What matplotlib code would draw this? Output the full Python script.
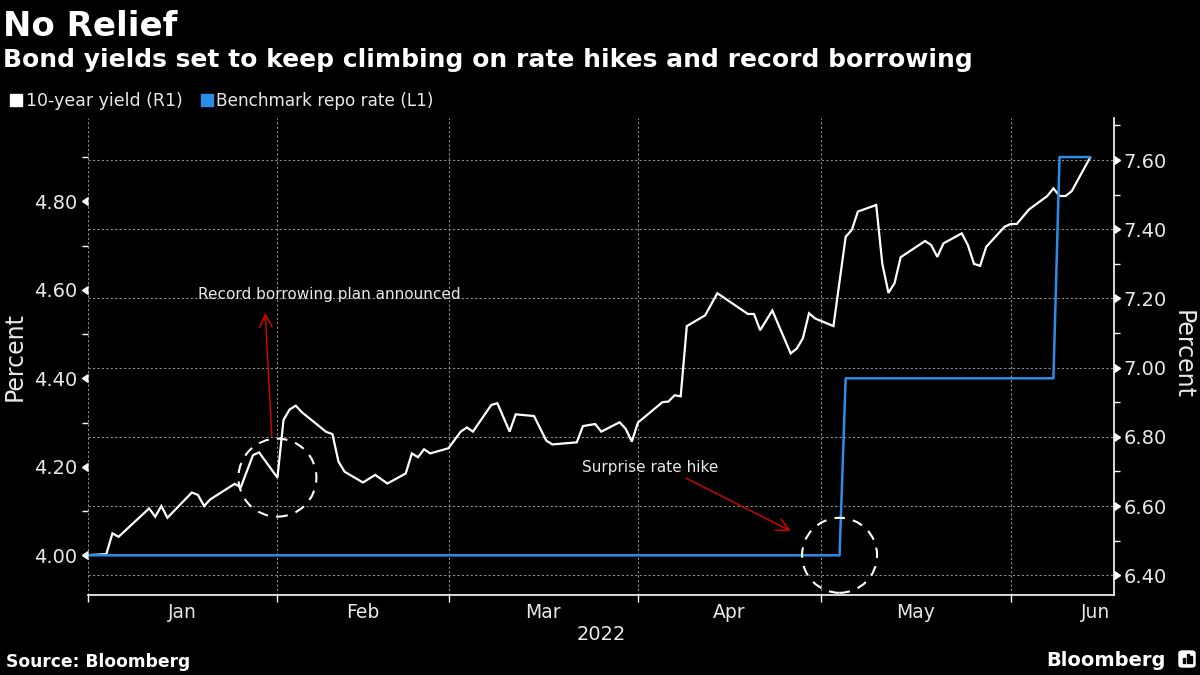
import matplotlib
matplotlib.use("Agg")
import matplotlib.pyplot as plt
import matplotlib.transforms as mtrans
import matplotlib.dates as mdates
from matplotlib.patches import Circle, Rectangle, FancyBboxPatch
import pandas as pd

# ---------------- data ----------------
title = "No Relief"
subtitle = "Bond yields set to keep climbing on rate hikes and record borrowing"
source = "Source: Bloomberg"
legend_labels = ["10-year yield (R1)", "Benchmark repo rate (L1)"]

yield_dates = [
    "2022-01-01", "2022-01-04", "2022-01-05", "2022-01-06", "2022-01-11", "2022-01-12",
    "2022-01-13", "2022-01-14", "2022-01-18", "2022-01-19", "2022-01-20", "2022-01-21",
    "2022-01-25", "2022-01-26", "2022-01-28", "2022-01-29", "2022-02-01", "2022-02-02",
    "2022-02-03", "2022-02-04", "2022-02-05", "2022-02-09", "2022-02-10", "2022-02-11",
    "2022-02-12", "2022-02-15", "2022-02-17", "2022-02-19", "2022-02-22", "2022-02-23",
    "2022-02-24", "2022-02-25", "2022-02-26", "2022-03-01", "2022-03-03", "2022-03-04",
    "2022-03-05", "2022-03-08", "2022-03-09", "2022-03-11", "2022-03-12", "2022-03-15",
    "2022-03-17", "2022-03-18", "2022-03-22", "2022-03-23", "2022-03-25", "2022-03-26",
    "2022-03-29", "2022-03-30", "2022-03-31", "2022-04-01", "2022-04-05", "2022-04-06",
    "2022-04-07", "2022-04-08", "2022-04-09", "2022-04-12", "2022-04-14", "2022-04-19",
    "2022-04-20", "2022-04-21", "2022-04-23", "2022-04-26", "2022-04-27", "2022-04-28",
    "2022-04-29", "2022-04-30", "2022-05-03", "2022-05-05", "2022-05-06", "2022-05-07",
    "2022-05-10", "2022-05-11", "2022-05-12", "2022-05-13", "2022-05-14", "2022-05-18",
    "2022-05-19", "2022-05-20", "2022-05-21", "2022-05-24", "2022-05-25", "2022-05-26",
    "2022-05-27", "2022-05-28", "2022-05-31", "2022-06-01", "2022-06-02", "2022-06-04",
    "2022-06-07", "2022-06-08", "2022-06-09", "2022-06-10", "2022-06-11", "2022-06-14",
]
yield_values = [
    6.458, 6.461, 6.521, 6.511, 6.593, 6.569,
    6.600, 6.566, 6.639, 6.632, 6.600, 6.619,
    6.664, 6.654, 6.747, 6.755, 6.682, 6.849,
    6.879, 6.890, 6.871, 6.814, 6.808, 6.728,
    6.699, 6.668, 6.690, 6.665, 6.694, 6.752,
    6.741, 6.764, 6.752, 6.767, 6.815, 6.827,
    6.815, 6.892, 6.897, 6.815, 6.865, 6.860,
    6.789, 6.778, 6.784, 6.831, 6.837, 6.815,
    6.842, 6.823, 6.786, 6.841, 6.900, 6.902,
    6.920, 6.917, 7.120, 7.151, 7.215, 7.155,
    7.155, 7.108, 7.165, 7.041, 7.055, 7.085,
    7.157, 7.142, 7.120, 7.378, 7.398, 7.451,
    7.470, 7.300, 7.216, 7.244, 7.319, 7.366,
    7.354, 7.320, 7.359, 7.388, 7.354, 7.300,
    7.294, 7.349, 7.407, 7.415, 7.415, 7.457,
    7.496, 7.518, 7.496, 7.496, 7.510, 7.607,
]

repo_dates = ["2022-01-01", "2022-05-04", "2022-05-05", "2022-06-08", "2022-06-09", "2022-06-14"]
repo_values = [4.00, 4.00, 4.40, 4.40, 4.90, 4.90]

left_ticks = [4.00, 4.20, 4.40, 4.60, 4.80]
left_minor = [4.10, 4.30, 4.50, 4.70, 4.90]
right_ticks = [6.40, 6.60, 6.80, 7.00, 7.20, 7.40, 7.60]
right_minor = [6.50, 6.70, 6.90, 7.10, 7.30, 7.50, 7.70]

month_starts = ["2022-01-01", "2022-02-01", "2022-03-01", "2022-04-01", "2022-05-01", "2022-06-01"]
month_labels = ["Jan", "Feb", "Mar", "Apr", "May", "Jun"]
month_label_pos = ["2022-01-16 10:00", "2022-02-15 00:00", "2022-03-16 12:00",
                   "2022-04-16 00:00", "2022-05-16 12:00", "2022-06-14 20:00"]
year_label = "2022"

note1 = "Record borrowing plan announced"
note2 = "Surprise rate hike"

# ---------------- style ----------------
BG = "#000000"
WHITE = "#ffffff"
TXT = "#e8e8e8"
GRID = "#8a8a8a"
BLUE = "#2b8de8"
RED = "#e00000"

fig = plt.figure(figsize=(12, 6.75), dpi=100, facecolor=BG)
ax = fig.add_axes([88 / 1200, 1 - 595 / 675, (1113.6 - 88) / 1200, (595 - 118) / 675])
ax.set_facecolor(BG)
ax2 = ax.twinx()

yd = pd.to_datetime(yield_dates)
rd = pd.to_datetime(repo_dates)

ax.plot(yd, yield_values, color=WHITE, lw=1.6, solid_joinstyle="miter", zorder=3)
ax2.plot(rd, repo_values, color=BLUE, lw=1.8, zorder=3)

x0 = pd.Timestamp("2022-01-01")
ax.set_xlim(x0, x0 + pd.Timedelta(days=167.85))
ax.set_ylim(6.3428, 7.7214)
ax2.set_ylim(3.9103, 4.9883)

# axis sides
ax.yaxis.tick_right()
ax.yaxis.set_label_position("right")
ax2.yaxis.tick_left()
ax2.yaxis.set_label_position("left")

# spines
for s in ax.spines.values():
    s.set_visible(False)
for s in ax2.spines.values():
    s.set_visible(False)
ax.spines["right"].set_visible(True)
ax.spines["bottom"].set_visible(True)
ax.spines["right"].set_color(WHITE)
ax.spines["bottom"].set_color(WHITE)
ax.spines["right"].set_linewidth(1.2)
ax.spines["bottom"].set_linewidth(1.2)

# right axis ticks (yield)
ax.set_yticks(right_ticks)
ax.set_yticklabels([f"{v:.2f}" for v in right_ticks])
ax.set_yticks(right_minor, minor=True)
ax.tick_params(axis="y", which="major", length=0, pad=7, labelsize=14, labelcolor=TXT)
ax.tick_params(axis="y", which="minor", length=4, width=1, color=WHITE, direction="out")

# left axis ticks (repo)
ax2.set_yticks(left_ticks)
ax2.set_yticklabels([f"{v:.2f}" for v in left_ticks])
ax2.set_yticks(left_minor, minor=True)
ax2.tick_params(axis="y", which="major", length=0, pad=8, labelsize=14, labelcolor=TXT)
ax2.tick_params(axis="y", which="minor", length=4, width=1, color=WHITE, direction="out")

# triangular major tick marks
tr_l = mtrans.blended_transform_factory(ax2.transAxes, ax2.transData)
ax2.plot([0] * len(left_ticks), left_ticks, linestyle="none", marker=8, markersize=6,
         color=WHITE, transform=tr_l, clip_on=False, zorder=5)
tr_r = mtrans.blended_transform_factory(ax.transAxes, ax.transData)
ax.plot([1] * len(right_ticks), right_ticks, linestyle="none", marker=9, markersize=6,
        color=WHITE, transform=tr_r, clip_on=False, zorder=5)

# x axis
ax.set_xticks(pd.to_datetime(month_starts))
ax.set_xticklabels([""] * len(month_starts))
ax.set_xticks(pd.to_datetime(month_label_pos), minor=True)
ax.set_xticklabels(month_labels, minor=True)
ax.tick_params(axis="x", which="major", length=5, width=1, color=WHITE, direction="out")
ax.tick_params(axis="x", which="minor", length=0, pad=6, labelsize=13.5, labelcolor=TXT)

# grid
ax.grid(True, which="major", color=GRID, linestyle=(0, (2, 2)), linewidth=0.8)
ax.set_axisbelow(True)

# axis labels
ax2.set_ylabel("Percent", fontsize=17, color=TXT, va="center")
ax2.yaxis.set_label_coords(-0.0712, 0.5)
ax.set_ylabel("Percent", fontsize=17, color=TXT, rotation=270, va="center")
ax.yaxis.set_label_coords(1.0675, 0.505)

fig.text(601 / 1200, 1 - 634 / 675, year_label, ha="center", va="center", fontsize=14, color=TXT)

# annotations
ax.annotate("", xy=(pd.Timestamp("2022-01-30"), 7.158), xytext=(pd.Timestamp("2022-01-31 02:00"), 6.802),
            arrowprops=dict(arrowstyle="->,head_length=0.9,head_width=0.45", color=RED, lw=1.0,
                            shrinkA=0, shrinkB=0), zorder=6)
ax.text(pd.Timestamp("2022-02-09 10:00"), 7.21, note1, ha="center", va="center", fontsize=11, color=TXT)

ax.annotate("", xy=(pd.Timestamp("2022-04-26"), 6.528), xytext=(pd.Timestamp("2022-04-08 22:00"), 6.680),
            arrowprops=dict(arrowstyle="->,head_length=0.9,head_width=0.45", color=RED, lw=1.0,
                            shrinkA=0, shrinkB=0), zorder=6)
ax.text(pd.Timestamp("2022-04-03 02:00"), 6.71, note2, ha="center", va="center", fontsize=11, color=TXT)

# dashed circles centred on the highlighted data points
c1 = Circle((0, 0), radius=0.39, fill=False, edgecolor=WHITE, lw=1.5, linestyle=(0, (5, 4)),
            transform=fig.dpi_scale_trans + mtrans.ScaledTranslation(
                mdates.date2num(yd[yield_dates.index("2022-02-01")]),
                yield_values[yield_dates.index("2022-02-01")], ax.transData), clip_on=False, zorder=6)
ax.add_artist(c1)
c2 = Circle((0, 0), radius=0.375, fill=False, edgecolor=WHITE, lw=1.5, linestyle=(0, (5, 4)),
            transform=fig.dpi_scale_trans + mtrans.ScaledTranslation(
                mdates.date2num(rd[1]), repo_values[1], ax2.transData), clip_on=False, zorder=6)
ax2.add_artist(c2)

# titles
fig.text(3 / 1200, 1 - 36.5 / 675, title, fontsize=24.5, fontweight="bold", color=WHITE, va="baseline")
fig.text(3 / 1200, 1 - 66.5 / 675, subtitle, fontsize=18, fontweight="bold", color=WHITE, va="baseline")

# legend
fig.patches.append(Rectangle((9.6 / 1200, 1 - 106 / 675), 12 / 1200, 12 / 675, color=WHITE,
                             transform=fig.transFigure, figure=fig))
fig.text(26 / 1200, 1 - 100.5 / 675, legend_labels[0], fontsize=12.5, color=TXT, va="center")
fig.patches.append(Rectangle((200.5 / 1200, 1 - 106 / 675), 12 / 1200, 12 / 675, color=BLUE,
                             transform=fig.transFigure, figure=fig))
fig.text(216 / 1200, 1 - 100.5 / 675, legend_labels[1], fontsize=12.2, color=TXT, va="center")

# footer
fig.text(6 / 1200, 1 - 667 / 675, source, fontsize=12.3, fontweight="bold", color=WHITE, va="baseline")
fig.text(1166 / 1200, 1 - 666 / 675, "Bloomberg", fontsize=14, fontweight="bold", color=WHITE,
         va="baseline", ha="right")
fig.patches.append(FancyBboxPatch((1179 / 1200, 1 - 667 / 675), 16 / 1200, 16 / 675,
                                  boxstyle="round,pad=0,rounding_size=0.003", color=WHITE,
                                  transform=fig.transFigure, figure=fig))
for bx, bh in [(1183, 5), (1186.5, 9), (1190, 7)]:
    fig.patches.append(Rectangle((bx / 1200, 1 - 663 / 675), 2 / 1200, bh / 675, color=BG,
                                 transform=fig.transFigure, figure=fig))

fig.savefig("out.png", dpi=100, facecolor=BG)
